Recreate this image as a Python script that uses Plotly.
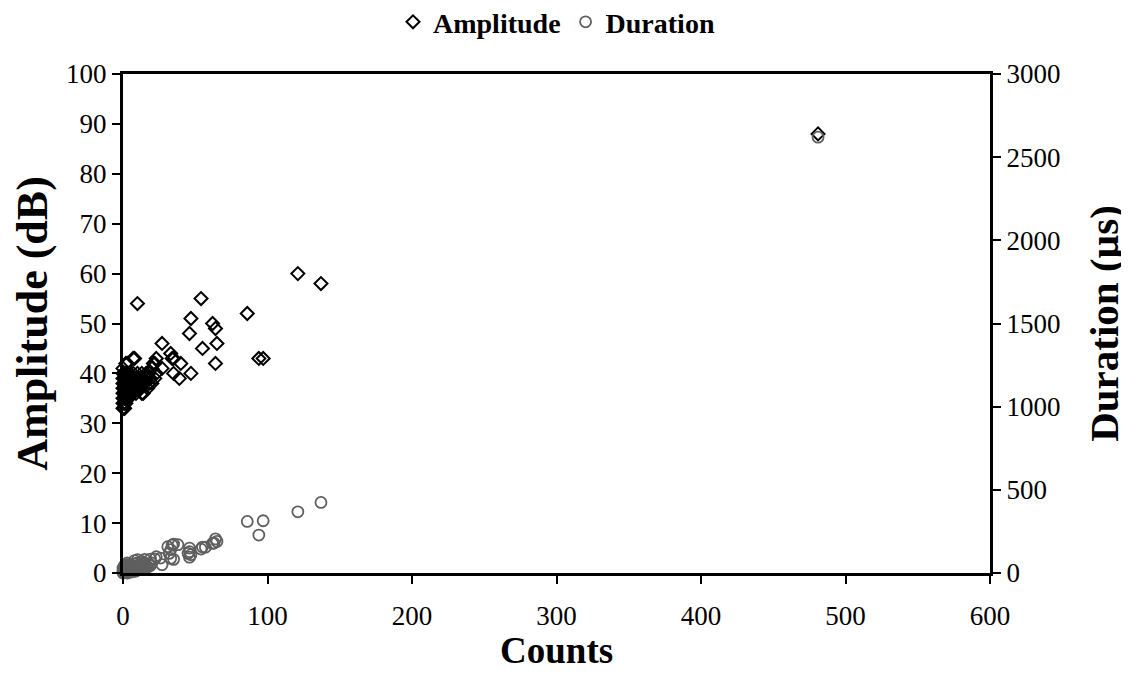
import plotly.graph_objects as go

# Amplitude (dB) vs Counts
amp_counts = [
    481, 10, 54, 121, 137, 86, 47, 62, 64, 46, 65, 27, 55, 33, 34, 35, 40, 64, 94, 97,
    35, 47, 39, 23, 7, 8, 27, 21, 13, 1, 2, 3, 13, 22, 20, 23, 22, 20, 14,
    0, 0, 0, 0, 0, 0, 0, 0, 0,
    1, 1, 1, 1, 1, 1, 1, 1,
    2, 2, 2, 2, 2, 2, 2,
    3, 3, 3, 3, 3, 3,
    4, 4, 4, 4, 4, 4,
    5, 5, 5, 5, 5,
    6, 6, 6, 6,
    7, 7, 7, 7, 7,
    8, 8, 8,
    9, 9, 9, 9,
    10, 10, 10, 10,
    11, 11, 11,
    12, 12, 12,
    14, 14, 15, 16, 17, 18, 19, 16, 18,
]
amp_values = [
    88, 54, 55, 60, 58, 52, 51, 50, 49, 48, 46, 46, 45, 44, 43, 43, 42, 42, 43, 43,
    40, 40, 39, 43, 43, 43, 41, 42, 36, 33, 42, 42, 40, 42, 41, 40, 39, 38, 36,
    33, 34, 35, 36, 37, 38, 39, 40, 41,
    33, 34, 35, 36, 37, 38, 39, 40,
    34, 35, 36, 37, 38, 39, 40,
    35, 36, 37, 38, 39, 40,
    35, 36, 37, 38, 39, 40,
    36, 37, 38, 39, 40,
    36, 37, 38, 39,
    36, 37, 38, 39, 40,
    37, 38, 39,
    36, 37, 38, 39,
    37, 38, 39, 40,
    37, 38, 39,
    37, 38, 39,
    38, 39, 38, 39, 37, 38, 39, 40, 40,
]

# Duration (µs) vs Counts
dur_counts = [
    481, 86, 97, 94, 121, 137, 64, 65, 63, 62, 55, 57, 54, 46, 46, 45, 47, 46,
    34, 38, 35, 33, 32, 35, 33, 31, 26, 23, 22, 27, 13, 8, 10, 15, 19, 3,
    0, 0, 0, 1, 1, 1, 2, 2, 3, 3, 3, 4, 4, 5, 5, 6, 6, 7, 7, 8, 8, 9, 9,
    10, 10, 11, 11, 12, 13, 13, 14, 15, 15, 16, 17, 18, 19, 20,
]
dur_values = [
    2620, 310, 314, 228, 368, 424, 205, 190, 180, 178, 156, 155, 144, 150, 128, 118, 110, 95,
    168, 170, 174, 140, 118, 82, 88, 158, 90, 98, 85, 50, 70, 75, 80, 82, 84, 60,
    0, 15, 30, 5, 25, 45, 10, 35, 0, 20, 50, 12, 40, 5, 28, 18, 45, 8, 32, 22, 55, 12, 40,
    30, 60, 20, 48, 35, 25, 55, 40, 30, 60, 45, 35, 55, 45, 60,
]

x_ticks = [0, 100, 200, 300, 400, 500, 600]
amp_ticks = [0, 10, 20, 30, 40, 50, 60, 70, 80, 90, 100]
dur_ticks = [0, 500, 1000, 1500, 2000, 2500, 3000]

FONT = "Liberation Serif, Times New Roman, serif"
TICK = 27
XTITLE = 37
YTITLE = 44
Y2TITLE = 41

fig = go.Figure()
fig.add_trace(go.Scatter(
    x=amp_counts, y=amp_values, mode="markers", name="Amplitude",
    marker=dict(symbol="diamond-open", size=10, color="black", line=dict(width=2, color="black")),
    cliponaxis=False,
))
fig.add_trace(go.Scatter(
    x=dur_counts, y=dur_values, mode="markers", name="Duration", yaxis="y2",
    marker=dict(symbol="circle-open", size=11, color="#5f5f5f", line=dict(width=1.8, color="#5f5f5f")),
    cliponaxis=False,
))

fig.update_layout(
    width=1121, height=679,
    margin=dict(l=115, r=139, t=66, b=114, autoexpand=False),
    paper_bgcolor="white", plot_bgcolor="white",
    font=dict(family=FONT, size=TICK, color="black"),
    showlegend=True,
    legend=dict(
        orientation="h", x=0.5, xanchor="center", xref="paper",
        y=1.104, yanchor="middle", yref="paper",
        font=dict(family=FONT, size=28, color="black", weight="bold"),
        itemwidth=30, tracegroupgap=0, bgcolor="rgba(0,0,0,0)",
    ),
    xaxis=dict(
        range=[0, 600], tickvals=x_ticks, showgrid=False, zeroline=False,
        showline=True, linewidth=3, linecolor="black", mirror=True,
        ticks="outside", ticklen=8, tickwidth=2, tickcolor="black",
        tickfont=dict(family=FONT, size=TICK), ticklabelstandoff=9, automargin=False,
    ),
    yaxis=dict(
        range=[0, 100], tickvals=amp_ticks, showgrid=False, zeroline=False,
        showline=True, linewidth=3, linecolor="black", automargin=False,
        ticks="outside", ticklen=8, tickwidth=2, tickcolor="black",
        tickfont=dict(family=FONT, size=TICK),
        title=dict(text="Amplitude (dB)", font=dict(family=FONT, size=YTITLE, weight="bold"), standoff=8),
    ),
    yaxis2=dict(
        range=[0, 3000], tickvals=dur_ticks, overlaying="y", side="right",
        showgrid=False, zeroline=False, automargin=False,
        showline=True, linewidth=3, linecolor="black",
        ticks="outside", ticklen=8, tickwidth=2, tickcolor="black",
        tickfont=dict(family=FONT, size=TICK),
        title=dict(text="Duration (µs)", font=dict(family=FONT, size=Y2TITLE, weight="bold"), standoff=30),
    ),
    annotations=[dict(
        text="<b>Counts</b>", xref="paper", yref="paper", x=0.5, y=-0.156,
        xanchor="center", yanchor="middle", showarrow=False,
        font=dict(family=FONT, size=XTITLE, color="black"),
    )],
)

fig.write_html("out.html")
